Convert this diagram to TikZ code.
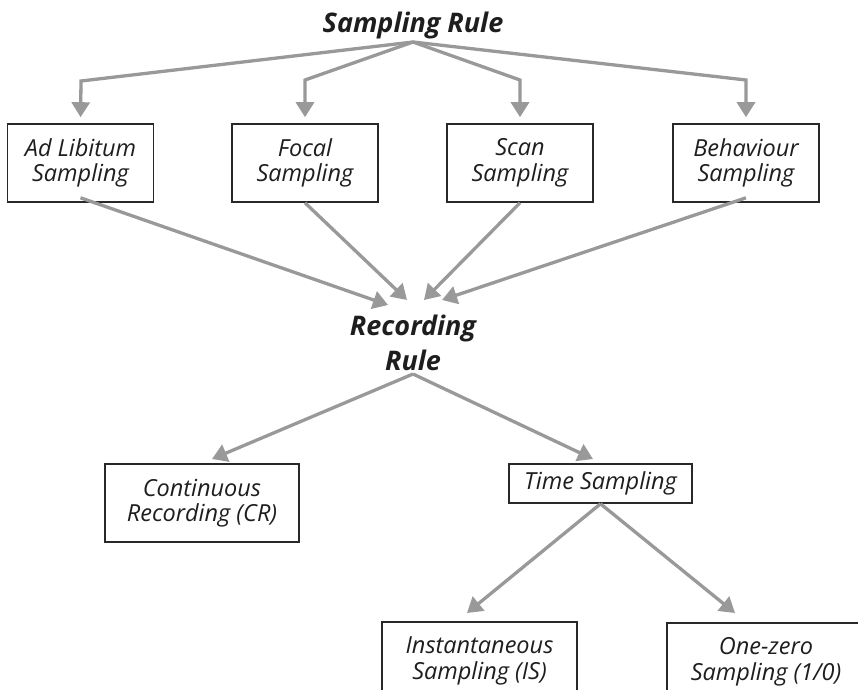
\documentclass[tikz,border=0pt]{standalone}
\usepackage{fontspec}
\setmainfont{Open Sans}
\usetikzlibrary{arrows.meta}
\definecolor{arrowgray}{RGB}{153,153,153}
\definecolor{boxline}{RGB}{40,40,40}
\definecolor{txt}{RGB}{30,30,30}
\begin{document}
\begin{tikzpicture}[x=1pt,y=-1pt,
  conn/.style={draw=arrowgray, line width=3.3pt, line join=miter, -{Triangle[width=18pt,length=15pt]}},
  box/.style={draw=boxline, line width=1.6pt, fill=white, align=center, inner sep=0pt,
    font=\fontsize{23.5}{25.5}\selectfont\itshape, text=txt},
  ttl/.style={font=\fontsize{27}{35}\selectfont\bfseries\itshape, text=txt, align=center, inner sep=0pt}]
\clip (0,0) rectangle (858,689);
\fill[white] (0,0) rectangle (858,689);
% titles
\node[ttl, anchor=base] (title) at (413,32) {Sampling Rule};
\node[ttl] (rec) at (413,343) {Recording\\Rule};
% boxes
\node[box, minimum width=146, minimum height=78] (adlib) at (80.5,163) {Ad Libitum\\Sampling};
\node[box, minimum width=146, minimum height=78] (focal) at (305,163) {Focal\\Sampling};
\node[box, minimum width=146, minimum height=78] (scan) at (520,163) {Scan\\Sampling};
\node[box, minimum width=146, minimum height=78] (behav) at (746,163) {Behaviour\\Sampling};
\node[box, minimum width=194, minimum height=78] (cr) at (202,503) {Continuous\\Recording (CR)};
\node[box, minimum width=183, minimum height=39] (time) at (600.5,483.5) {Time Sampling};
\node[box, minimum width=195, minimum height=78] (is) at (479.5,661) {Instantaneous\\Sampling (IS)};
\node[box, minimum width=198, minimum height=78] (oz) at (766,662) {One-zero\\Sampling (1/0)};
% branch points, corners and tips
\coordinate (top) at (413,42);
\coordinate (c1) at (81,81);
\coordinate (c2) at (305,80);
\coordinate (c3) at (520,80);
\coordinate (c4) at (746,80);
\coordinate (r1) at (388,305);
\coordinate (r2) at (407,300);
\coordinate (r3) at (424,300);
\coordinate (r4) at (442,300);
\coordinate (rb) at (413,374);
\coordinate (tcr) at (212,459);
\coordinate (ttime) at (593,459);
\coordinate (tis) at (467,613);
\coordinate (toz) at (735,613);
% top connectors
\draw[conn, shorten >=6pt] (top) -- (c1) -- (adlib.north);
\draw[conn, shorten >=6pt] (top) -- (c2) -- (focal.north);
\draw[conn, shorten >=6pt] (top) -- (c3) -- (scan.north);
\draw[conn, shorten >=6pt] (top) -- (c4) -- (behav.north);
% to recording rule
\draw[conn] ([yshift=5pt]adlib.south) -- (r1);
\draw[conn] (focal.south) -- (r2);
\draw[conn] (scan.south) -- (r3);
\draw[conn] ([yshift=5pt]behav.south) -- (r4);
% recording rule children
\draw[conn] (rb) -- (tcr);
\draw[conn] (rb) -- (ttime);
\draw[conn] (time.south) -- (tis);
\draw[conn] (time.south) -- (toz);
\end{tikzpicture}
\end{document}
